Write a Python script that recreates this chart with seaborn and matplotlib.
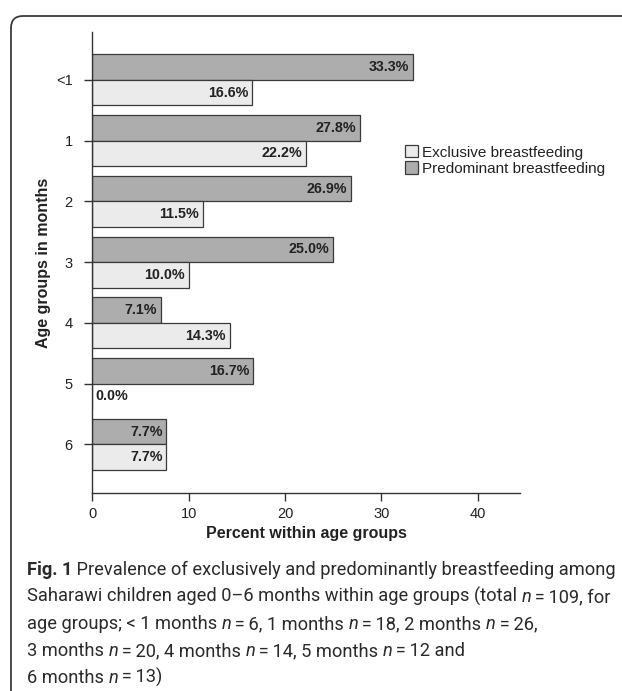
import numpy as np
import pandas as pd
import matplotlib
matplotlib.use('Agg')
import matplotlib.pyplot as plt
import seaborn as sns
from matplotlib import font_manager
from matplotlib.patches import Patch, FancyBboxPatch
from matplotlib.transforms import IdentityTransform

# data
ages = ['<1', '1', '2', '3', '4', '5', '6']
exclusive = [16.6, 22.2, 11.5, 10.0, 14.3, 0.0, 7.7]
predominant = [33.3, 27.8, 26.9, 25.0, 7.1, 16.7, 7.7]
x_ticks = [0, 10, 20, 30, 40]
series = ['Exclusive breastfeeding', 'Predominant breastfeeding']

caption_lines = [
    [('Fig. 1', 'bold'), (' Prevalence of exclusively and predominantly breastfeeding among', 'plain')],
    [('Saharawi children aged 0\u20136 months within age groups (total ', 'plain'), ('n', 'italic'),
     ('\u2009=\u2009109, for', 'plain')],
    [('age groups; < 1 months ', 'plain'), ('n', 'italic'), ('\u2009=\u20096, 1 months ', 'plain'),
     ('n', 'italic'), ('\u2009=\u200918, 2 months ', 'plain'), ('n', 'italic'), ('\u2009=\u200926,', 'plain')],
    [('3 months ', 'plain'), ('n', 'italic'), ('\u2009=\u200920, 4 months ', 'plain'), ('n', 'italic'),
     ('\u2009=\u200914, 5 months ', 'plain'), ('n', 'italic'), ('\u2009=\u200912 and', 'plain')],
    [('6 months ', 'plain'), ('n', 'italic'), ('\u2009=\u200913)', 'plain')],
]

df = pd.DataFrame({
    'age': ages * 2,
    'pct': predominant + exclusive,
    'type': [series[1]] * len(ages) + [series[0]] * len(ages),
})

light = '#ebebeb'
dark = '#adadad'
edge = '#3a3a3a'
ink = '#222222'

sns.set_style('ticks')
plt.rcParams['font.family'] = ['Liberation Sans', 'DejaVu Sans']

W, H = 622, 691
fig = plt.figure(figsize=(W / 100, H / 100), dpi=100)
ax = fig.add_axes([92.3 / W, 1 - 493 / H, (520 - 92.3) / W, (493 - 32) / H])

sns.barplot(data=df, y='age', x='pct', hue='type', hue_order=[series[1], series[0]],
            palette=[dark, light], orient='h', width=0.84, saturation=1,
            edgecolor=edge, linewidth=0.9, legend=False, ax=ax)

ax.set_xlim(0, 44.4)
ax.set_ylim(6.80, -0.79)
ax.set_xticks(x_ticks)
sns.despine(ax=ax)
for s in ['left', 'bottom']:
    ax.spines[s].set_color('#333333')
    ax.spines[s].set_linewidth(1.0)
ax.tick_params(length=6, width=1, color='#333333', labelsize=10.5, labelcolor=ink)
ax.tick_params(axis='y', pad=8)
ax.tick_params(axis='x', pad=4)
ax.set_xlabel('Percent within age groups', fontsize=11.5, fontweight='bold', color=ink, labelpad=4)
ax.set_ylabel('Age groups in months', fontsize=11.5, fontweight='bold', color=ink)
ax.yaxis.set_label_coords(-0.0966, 0.5)

# value labels inside the bar ends
for cont, vals in zip(ax.containers, [predominant, exclusive]):
    for bar, v in zip(cont, vals):
        yc = bar.get_y() + bar.get_height() / 2
        if v > 0:
            ax.annotate(f'{v:.1f}%', xy=(v, yc), xytext=(-4, 0), textcoords='offset pixels',
                        ha='right', va='center', fontsize=10.3, fontweight='bold', color=ink)
        else:
            ax.annotate(f'{v:.1f}%', xy=(v, yc), xytext=(3, 0), textcoords='offset pixels',
                        ha='left', va='center', fontsize=10.3, fontweight='bold', color=ink)

handles = [Patch(facecolor=light, edgecolor=edge, linewidth=0.9),
           Patch(facecolor=dark, edgecolor=edge, linewidth=0.9)]
leg = fig.legend(handles, series, loc='center left', bbox_to_anchor=(405 / W, 1 - 160.5 / H),
                 frameon=False, fontsize=11, handlelength=0.85, handleheight=0.85,
                 handletextpad=0.25, labelspacing=0.12, borderpad=0, borderaxespad=0)
for t in leg.get_texts():
    t.set_color(ink)

# rounded frame around the figure panel
fig.add_artist(FancyBboxPatch((11, -30), 700, H - 16 + 30,
                              boxstyle='round,pad=0,rounding_size=12',
                              transform=IdentityTransform(), fill=False,
                              edgecolor='#3c3c3c', linewidth=1.3))

# caption: pick a narrow family if there is one, fit first line to its width
names = {f.name for f in font_manager.fontManager.ttflist}
cap_family = 'Liberation Sans Narrow' if 'Liberation Sans Narrow' in names else 'Roboto'
renderer = fig.canvas.get_renderer()


def draw_line(runs, x0, y0, size, draw=True):
    x = x0
    made = []
    for txt, style in runs:
        kw = dict(fontsize=size, color='#2a2a2a', family=[cap_family, 'DejaVu Sans'],
                  va='baseline', ha='left')
        if style == 'bold':
            kw['fontweight'] = 'bold'
        elif style == 'italic':
            kw['fontstyle'] = 'italic'
        t = fig.text(x / W, 1 - y0 / H, txt, **kw)
        x += t.get_window_extent(renderer).width
        made.append(t)
    if not draw:
        for t in made:
            t.remove()
    return x - x0


size = 14.0
w = draw_line(caption_lines[0], 27, 575, size, draw=False)
size = min(15.5, size * 592 / w)

for i, runs in enumerate(caption_lines):
    draw_line(runs, 27, 575 + i * 27, size)

fig.savefig('out.png', dpi=100)
